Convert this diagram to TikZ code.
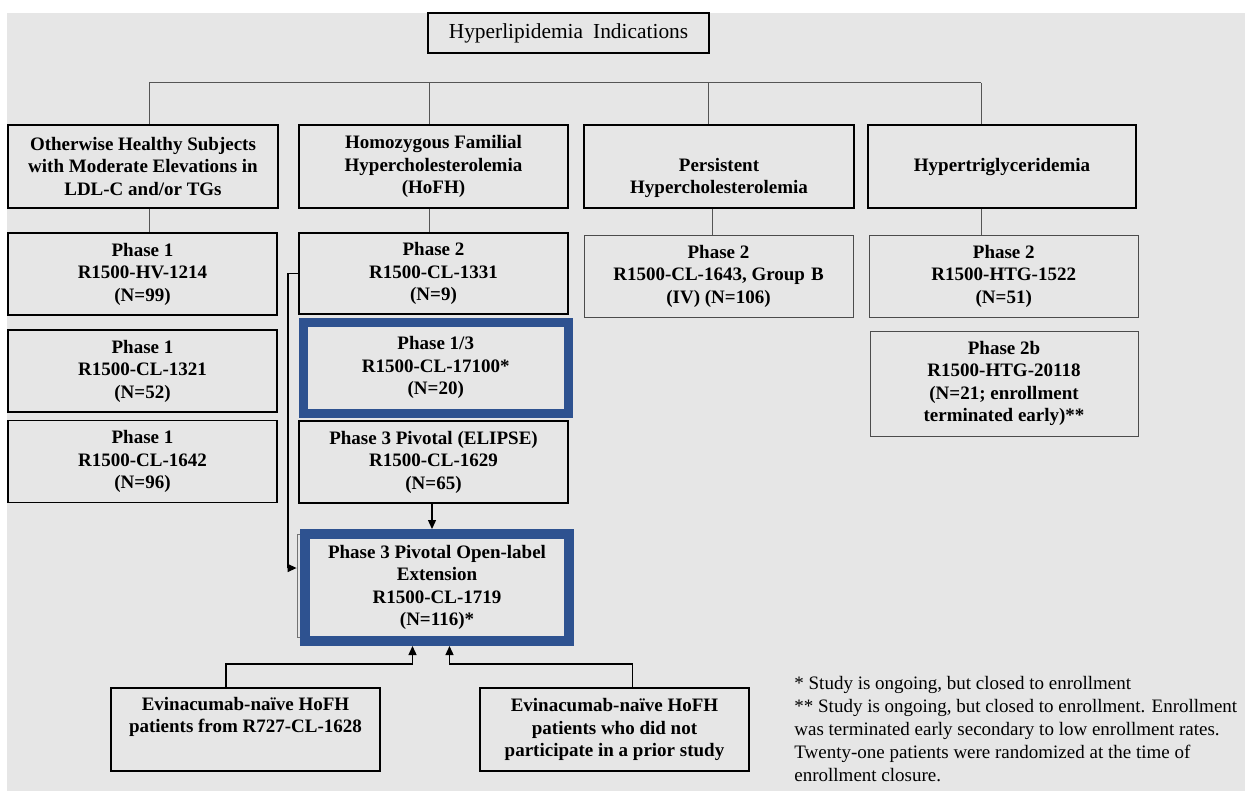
\documentclass[tikz,border=0pt]{standalone}
\usepackage{fontspec}
\setmainfont{Liberation Serif}
\usetikzlibrary{arrows.meta}
\definecolor{bg}{RGB}{230,230,230}
\definecolor{blu}{RGB}{46,82,144}
\definecolor{ln}{RGB}{85,85,85}
\begin{document}
\begin{tikzpicture}[x=0.5pt,y=-0.5pt,
  wh/.style 2 args={minimum width=#1*0.5pt, minimum height=#2*0.5pt},
  box/.style={draw=black, line width=0.7pt, inner sep=0pt, align=center, font=\bfseries\fontsize{9.5}{11.25}\selectfont},
  topbox/.style={box, line width=0.8pt},
  thinbox/.style={box, draw=black!70, line width=0.5pt},
  bluebox/.style={box, draw=blu, line width=4.5pt},
  conn/.style={draw=ln, line width=0.5pt},
  arr/.style={draw=black, line width=0.65pt, -{Triangle[length=4.5pt,width=4pt]}},
]
\useasboundingbox (0,0) rectangle (1245,791);
\fill[white] (0,0) rectangle (1245,791);
\fill[bg] (7,13) rectangle (1245,791);

% title
\node[box, line width=0.8pt, wh={281}{40}, font=\fontsize{10.7}{12}\selectfont] (title) at (568.5,33) {Hyperlipidemia\hspace{5pt}Indications};

% level 1
\node[topbox, wh={270}{83}] (hs) at (143,166.5) {Otherwise Healthy Subjects\\with Moderate Elevations in\\LDL-C and/or TGs};
\node[topbox, wh={269}{83}] (hofh) at (433.5,166.5) {Homozygous Familial\\Hypercholesterolemia\\(HoFH)};
\node[topbox, wh={269.5}{83}] (ph) at (719,166.5) {\strut\\Persistent\\Hypercholesterolemia\strut};
\node[topbox, wh={268.5}{83}] (htg) at (1002,166.5) {\strut\\Hypertriglyceridemia\\\strut};

% bar
\coordinate (b1) at (149,83);
\coordinate (b2) at (429,83);
\coordinate (b3) at (708.5,83);
\coordinate (b4) at (981,83);
\draw[conn] (b1) -- (b4);
\draw[conn] (b1) -- (b1 |- hs.north);
\draw[conn] (b2) -- (b2 |- hofh.north);
\draw[conn] (b3) -- (b3 |- ph.north);
\draw[conn] (b4) -- (b4 |- htg.north);

% column A
\node[box, wh={269}{82}] (a1) at (142.5,274) {Phase 1\\R1500-HV-1214\\(N=99)};
\node[box, wh={269}{82}] (a2) at (142.5,371) {Phase 1\\R1500-CL-1321\\(N=52)};
\node[box, wh={269}{82}] (a3) at (142.5,461.5) {Phase 1\\R1500-CL-1642\\(N=96)};

% column B
\node[box, wh={269}{81}] (hb1) at (433.5,273.5) {Phase 2\\R1500-CL-1331\\(N=9)};
\node[bluebox, wh={264.5}{91}] (hb2) at (435.75,367.5) {Phase 1/3\\R1500-CL-17100*\\(N=20)};
\node[box, wh={269}{82}] (hb3) at (433.5,462) {Phase 3 Pivotal (ELIPSE)\\R1500-CL-1629\\(N=65)};
\node[draw=black!55, line width=0.4pt, inner sep=0pt, wh={273}{103}] (back) at (433.5,585.5) {};
\node[bluebox, line width=5pt, wh={264}{107}] (hb4) at (437,587.5) {Phase 3 Pivotal Open-label\\Extension\\R1500-CL-1719\\(N=116)*};

% column C, D
\node[thinbox, wh={269}{82}] (c1) at (718.5,276) {Phase 2\\R1500-CL-1643, Group\hspace{3pt}B\\(IV) (N=106)};
\node[thinbox, wh={268.5}{82}] (d1) at (1003.75,276) {Phase 2\\R1500-HTG-1522\\(N=51)};
\node[thinbox, wh={268}{105}] (d2) at (1004,383.5) {Phase 2b\\R1500-HTG-20118\\(N=21; enrollment\\terminated early)**};

% level 1 -> level 2 connectors
\coordinate (k3) at (712,220);
\draw[conn] (hs.south -| b1) -- (a1.north -| b1);
\draw[conn] (hofh.south -| b2) -- (hb1.north -| b2);
\draw[conn] (ph.south -| k3) -- (c1.north -| k3);
\draw[conn] (htg.south -| b4) -- (d1.north -| b4);

% bottom boxes
\node[box, wh={269}{83}] (e1) at (245.5,729.5) {Evinacumab-naïve HoFH\\patients from R727-CL-1628\\\strut};
\node[box, wh={269}{83}] (e2) at (614.5,729.5) {Evinacumab-naïve HoFH\\patients who did not\\participate in a prior study};

% arrows
\coordinate (ax) at (432,515);
\draw[arr] (hb3.south -| ax) -- (hb4.north -| ax);
\coordinate (lk) at (288,568);
\draw[arr] (hb1.west) -| (lk) -- (lk -| back.west);
\coordinate (k1) at (226,664);
\coordinate (j1) at (412.5,664);
\coordinate (k2) at (632.5,664);
\coordinate (j2) at (449.5,664);
\draw[arr] (e1.north -| k1) -- (k1) -- (j1) -- (j1 |- hb4.south);
\draw[arr] (e2.north -| k2) -- (k2) -- (j2) -- (j2 |- hb4.south);

% footnotes
\node[anchor=west, align=left, inner sep=0pt, font=\fontsize{9.5}{11.5}\selectfont] (note) at (794,729)
{* Study is ongoing, but closed to enrollment\\
** Study is ongoing, but closed to enrollment. Enrollment\\
was terminated early secondary to low enrollment rates.\\
Twenty-one patients were randomized at the time of\\
enrollment closure.};
\end{tikzpicture}
\end{document}
